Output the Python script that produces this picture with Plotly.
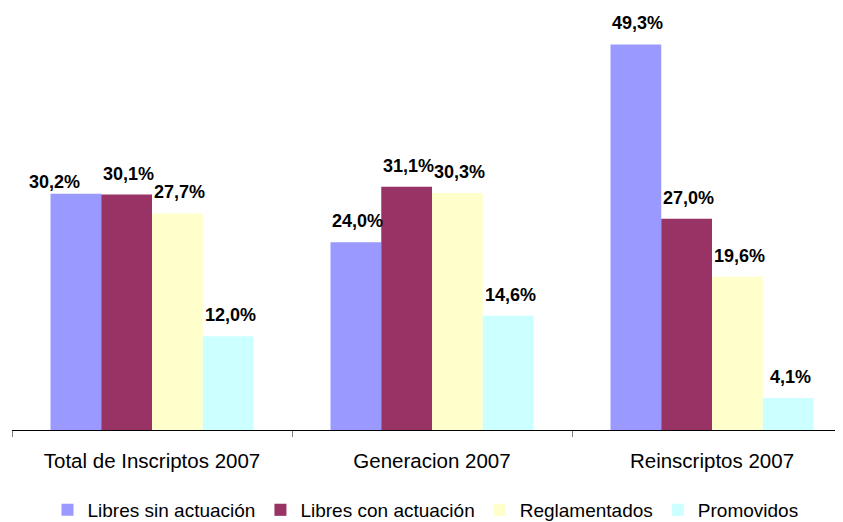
import plotly.graph_objects as go

categories = ["Total de Inscriptos 2007", "Generacion 2007", "Reinscriptos 2007"]
series_names = ["Libres sin actuación", "Libres con actuación", "Reglamentados", "Promovidos"]
libres_sin = [30.2, 24.0, 49.3]
libres_con = [30.1, 31.1, 27.0]
reglamentados = [27.7, 30.3, 19.6]
promovidos = [12.0, 14.6, 4.1]
colors = ["#9999FF", "#993366", "#FFFFCC", "#CCFFFF"]

all_series = [libres_sin, libres_con, reglamentados, promovidos]
FONT = "Liberation Sans, Arial, sans-serif"

# the page body has an 8px default margin, so the figure is sized to fit the window
OFF = 8
W, H = 843 - OFF, 522 - OFF
ML, MR, MT = 12 - OFF, 0, 0
plot_h = 430 - OFF
MB = H - plot_h
plot_w = W - ML - MR
cat_px = 280.0
px_per_pct = 7.82
bargap = 0.275
bar_px = cat_px * (1 - bargap) / 4
x_hi = -0.5 + plot_w / cat_px

fig = go.Figure()
for name, vals, col in zip(series_names, all_series, colors):
    fig.add_trace(go.Bar(x=categories, y=vals, name=name, marker=dict(color=col, line=dict(width=0))))

# special offsets for overlapping labels (as in the original)
special = {(0, 0): (-23, -9)}
annotations = []
for si, vals in enumerate(all_series):
    for ci, v in enumerate(vals):
        dx, dy = special.get((si, ci), (0, 0))
        annotations.append(dict(
            x=categories[ci], y=v, xref="x", yref="y",
            text="<b>" + f"{v:.1f}%".replace(".", ",") + "</b>",
            showarrow=False, xanchor="center", yanchor="middle",
            xshift=(si - 1.5) * bar_px + 2 + dx, yshift=21 + dy,
            font=dict(family=FONT, size=18, color="#000000"),
        ))

fig.update_layout(
    width=W, height=H,
    margin=dict(l=ML, r=MR, t=MT, b=MB, pad=0, autoexpand=False),
    paper_bgcolor="white", plot_bgcolor="white",
    barmode="group", bargap=bargap, bargroupgap=0,
    font=dict(family=FONT, color="#000000"),
    annotations=annotations,
    showlegend=True,
    legend=dict(orientation="h", xref="container", yref="container", x=0.5, xanchor="center",
                y=(H - (510 - OFF)) / H, yanchor="middle",
                font=dict(family=FONT, size=19, color="#000000"), itemwidth=30, traceorder="normal"),
    xaxis=dict(range=[-0.5, x_hi], tickson="boundaries", ticks="outside", ticklen=6, tickcolor="#808080",
               showline=True, linecolor="#000000", linewidth=1, showgrid=False, zeroline=False,
               automargin=False,
               tickfont=dict(family=FONT, size=20.5, color="#000000"), ticklabelstandoff=12),
    yaxis=dict(range=[0, plot_h / px_per_pct], visible=False, showgrid=False, zeroline=False, automargin=False),
)

fig.write_html("out.html")
